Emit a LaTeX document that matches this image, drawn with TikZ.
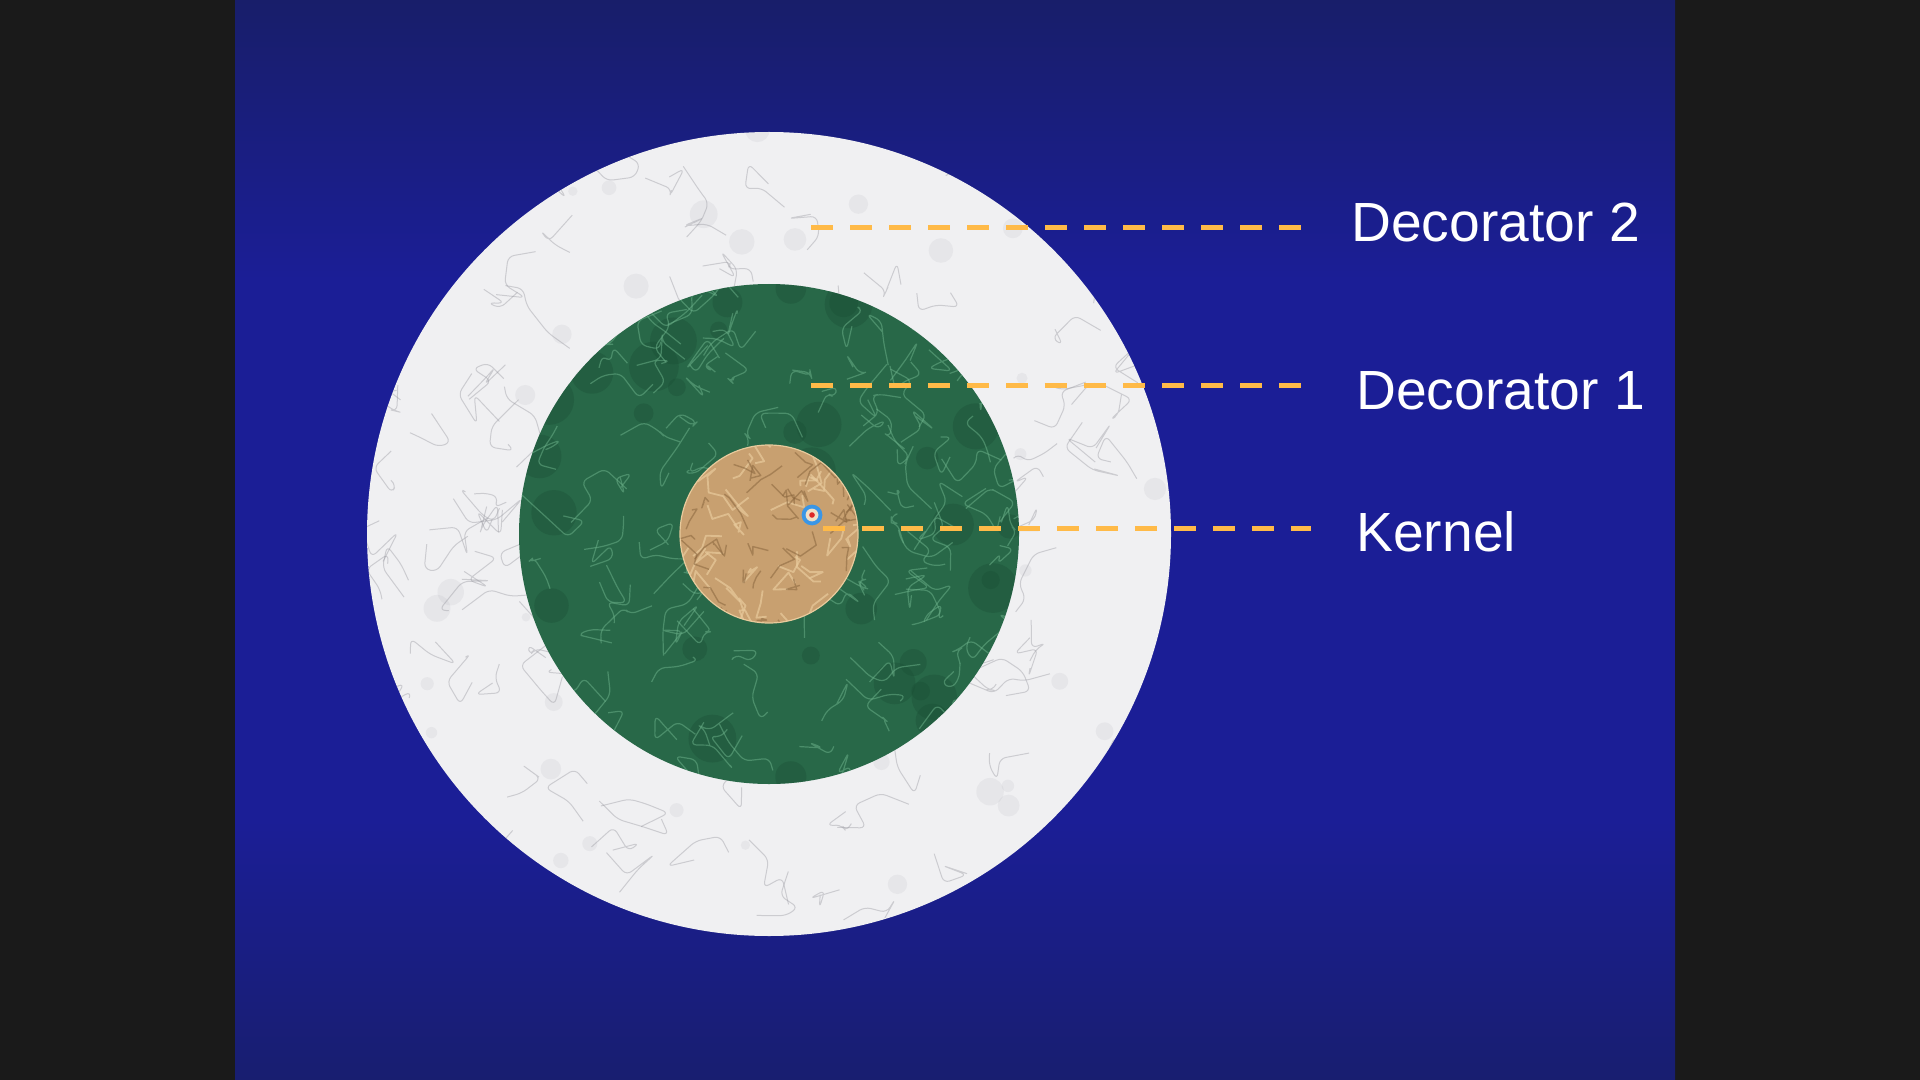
\documentclass[tikz,border=0pt]{standalone}
\usepackage{fontspec}
\setmainfont{Liberation Sans}
\definecolor{barcol}{RGB}{26,26,26}
\definecolor{bgtop}{RGB}{24,30,106}
\definecolor{bgmid}{RGB}{27,30,150}
\definecolor{bgbot}{RGB}{24,30,112}
\definecolor{marble}{RGB}{240,240,242}
\definecolor{marblevein}{RGB}{150,150,158}
\definecolor{greenbase}{RGB}{40,104,72}
\definecolor{greendark}{RGB}{26,78,52}
\definecolor{greenvein}{RGB}{110,180,140}
\definecolor{kernbase}{RGB}{200,160,112}
\definecolor{kerndark}{RGB}{138,102,62}
\definecolor{kernlight}{RGB}{232,202,156}
\definecolor{dashcol}{RGB}{255,186,72}
\definecolor{targetblue}{RGB}{58,150,230}
\definecolor{targetred}{RGB}{220,40,40}
\tikzset{
  leader/.style={draw=dashcol, line width=2.5pt, dash pattern=on 11pt off 8.5pt},
  label/.style={text=white, anchor=base west, inner sep=0pt, font=\fontsize{27.6}{33}\selectfont},
  mvein/.style={draw=marblevein, line width=0.5pt, opacity=0.4, line join=round, rounded corners=3pt},
  gvein/.style={draw=greenvein, line width=0.6pt, opacity=0.5, line join=round, rounded corners=3pt},
  kvein/.style={draw=kerndark, line width=0.7pt, opacity=0.55, line join=round},
  klight/.style={draw=kernlight, line width=0.9pt, opacity=0.7, line join=round}
}
\begin{document}
\begin{tikzpicture}[x=0.5pt,y=-0.5pt]
\useasboundingbox (0,0) rectangle (1920,1080);
% frame
\fill[barcol] (0,0) rectangle (1920,1080);
\fill[bgmid] (235,0) rectangle (1675,1080);
\shade[top color=bgtop, bottom color=bgmid] (235,0) rectangle (1675,280);
\shade[top color=bgmid, bottom color=bgbot] (235,820) rectangle (1675,1080);
\coordinate (C) at (769,534);
% outer marble disc
\fill[marble] (C) circle[radius=201pt];
\begin{scope}
  \clip (C) circle[radius=201pt];
  \pgfmathsetseed{11}
  \foreach \i in {1,...,60}{
    \fill[marblevein, opacity=0.10] ({rnd*820+360},{rnd*820+125}) circle[radius={rnd*10+4}];
  }
  \foreach \i in {1,...,160}{
    \draw[mvein] ({rnd*820+360},{rnd*820+125}) -- ++({rand*30},{rand*30}) -- ++({rand*30},{rand*30}) -- ++({rand*30},{rand*30}) -- ++({rand*30},{rand*30});
  }
\end{scope}
% green marble disc
\fill[greenbase] (C) circle[radius=125pt];
\begin{scope}
  \clip (C) circle[radius=125pt];
  \pgfmathsetseed{23}
  \foreach \i in {1,...,40}{
    \fill[greendark, opacity=0.35] ({rnd*500+519},{rnd*500+284}) circle[radius={rnd*18+8}];
  }
  \foreach \i in {1,...,150}{
    \draw[gvein] ({rnd*500+519},{rnd*500+284}) -- ++({rand*25},{rand*25}) -- ++({rand*25},{rand*25}) -- ++({rand*25},{rand*25}) -- ++({rand*25},{rand*25});
  }
\end{scope}
% kernel disc
\fill[kernbase] (C) circle[radius=44.5pt];
\begin{scope}
  \clip (C) circle[radius=44.5pt];
  \pgfmathsetseed{5}
  \foreach \i in {1,...,40}{
    \draw[klight] ({rnd*180+680},{rnd*180+445}) -- ++({rand*18},{rand*18}) -- ++({rand*18},{rand*18}) -- ++({rand*18},{rand*18});
  }
  \foreach \i in {1,...,50}{
    \draw[kvein] ({rnd*180+680},{rnd*180+445}) -- ++({rand*16},{rand*16}) -- ++({rand*16},{rand*16}) -- ++({rand*16},{rand*16});
  }
\end{scope}
\draw[kernlight, line width=0.6pt] (C) circle[radius=44.5pt];
% target icon
\coordinate (T) at (812,515);
\fill[targetblue] (T) circle[radius=5.2pt];
\fill[kernlight!60!white] (T) circle[radius=3.2pt];
\fill[targetred] (T) circle[radius=1.4pt];
% labels
\node[label] (d2) at (1351,242) {Decorator 2};
\node[label] (d1) at (1356,409) {Decorator 1};
\node[label] (kn) at (1356,551) {Kernel};
% leader lines
\coordinate (d2s) at (811,228);
\coordinate (d2e) at (1306,228);
\coordinate (d1s) at (811,385);
\coordinate (d1e) at (1306,385);
\coordinate (kns) at (823,528);
\coordinate (kne) at (1311,528);
\draw[leader] (d2s) -- (d2e);
\draw[leader] (d1s) -- (d1e);
\draw[leader] (kns) -- (kne);
\end{tikzpicture}
\end{document}
